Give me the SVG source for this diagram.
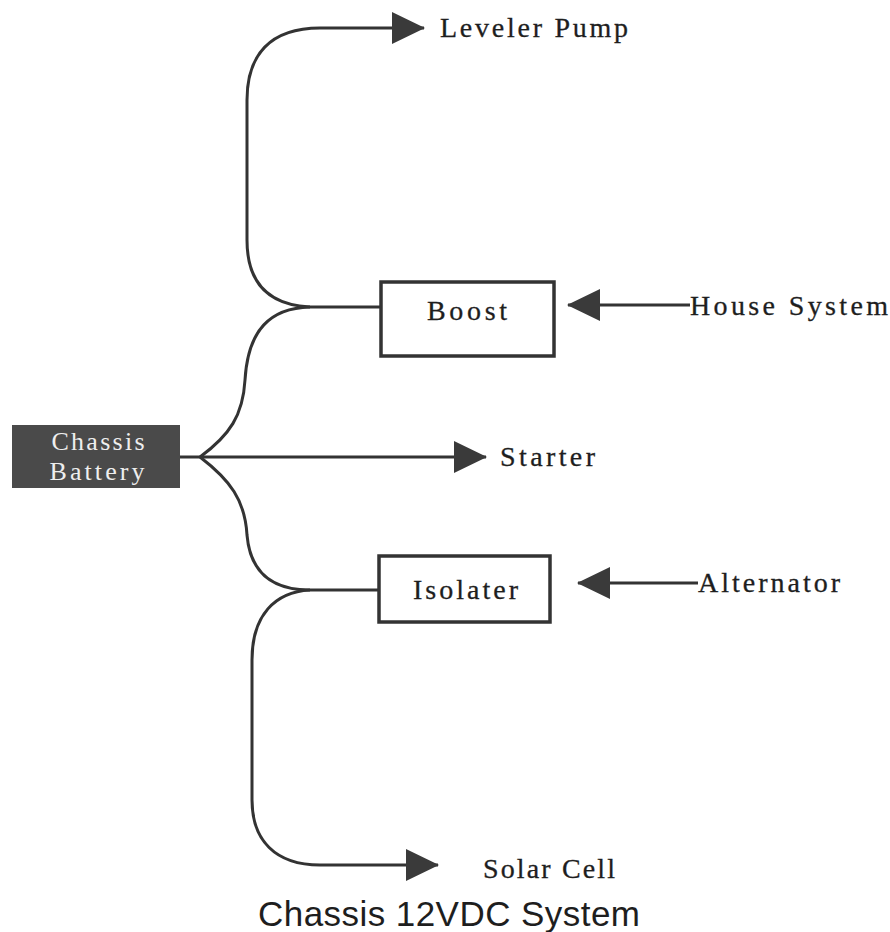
<svg xmlns="http://www.w3.org/2000/svg" width="890" height="932" viewBox="0 0 890 932">
<style>
.ln{fill:none;stroke:#333;stroke-width:3}
.box{fill:#fff;stroke:#333;stroke-width:3.5}
.t{font-family:"Liberation Serif",serif;font-size:28px;fill:#1e1e1e;stroke:#1e1e1e;stroke-width:0.3}
.w{font-family:"Liberation Serif",serif;font-size:26px;fill:#eee}
.title{font-family:"Liberation Sans",Arial,sans-serif;font-size:35px;fill:#1e1e1e}
</style>
<defs>
<marker id="ah" markerUnits="userSpaceOnUse" markerWidth="34" markerHeight="34" viewBox="0 0 34 34" refX="32" refY="17" orient="auto">
<path d="M0,1 L33,17 L0,33 z" fill="#3a3a3a"/>
</marker>
</defs>
<rect width="890" height="932" fill="#fff"/>
<g id="connectors">
<path class="ln" d="M180,457 H486" marker-end="url(#ah)"/>
<path class="ln" d="M200,457 C230,435 243,415 245,380 C248,330 270,308 310,307 H380"/>
<path class="ln" d="M310,307 C270,305 247,285 247,240 V100 C247,55 270,28 320,28 H424" marker-end="url(#ah)"/>
<path class="ln" d="M200,457 C230,480 245,500 247,535 C250,570 270,590 310,590 H378"/>
<path class="ln" d="M310,590 C275,592 252,615 252,660 V800 C252,840 275,865 320,865 H438" marker-end="url(#ah)"/>
<path class="ln" d="M690,305 H568" marker-end="url(#ah)"/>
<path class="ln" d="M698,583 H578" marker-end="url(#ah)"/>
</g>
<g id="battery">
<rect x="12" y="425" width="168" height="63" fill="#4a4a4a"/>
<text class="w" x="98" y="450" text-anchor="middle" textLength="93">Chassis</text>
<text class="w" x="97" y="480" text-anchor="middle" textLength="95">Battery</text>
</g>
<g id="boost">
<rect class="box" x="381" y="282" width="173" height="74"/>
<text class="t" x="427" y="320" textLength="80">Boost</text>
</g>
<g id="isolater">
<rect class="box" x="379" y="556" width="171" height="66"/>
<text class="t" x="413" y="599" textLength="105">Isolater</text>
</g>
<g id="leveler"><text class="t" x="440" y="37" textLength="188">Leveler Pump</text></g>
<g id="starter"><text class="t" x="500" y="466" textLength="95">Starter</text></g>
<g id="house"><text class="t" x="690" y="315" textLength="198">House System</text></g>
<g id="alternator"><text class="t" x="698" y="592" textLength="142">Alternator</text></g>
<g id="solar"><text class="t" x="483" y="878" font-size="25" textLength="132">Solar Cell</text></g>
<text class="title" x="258" y="926" textLength="382">Chassis 12VDC System</text>
</svg>
